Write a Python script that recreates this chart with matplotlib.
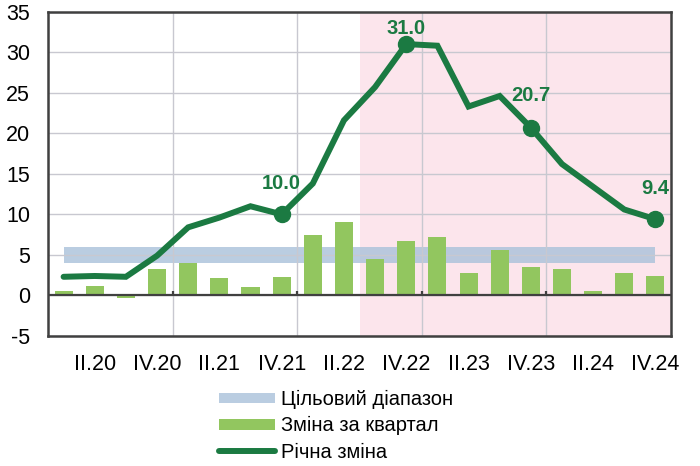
import matplotlib.pyplot as plt
import numpy as np

plt.rcParams["font.family"] = ["Liberation Sans", "DejaVu Sans"]
plt.rcParams["axes.unicode_minus"] = False

quarters = [f"{q}.{y}" for y in ["20", "21", "22", "23", "24"] for q in ["I", "II", "III", "IV"]]
quarterly = [0.6, 1.2, -0.3, 3.2, 4.0, 2.1, 1.1, 2.3, 7.5, 9.1,
             4.5, 6.7, 7.2, 2.8, 5.6, 3.5, 3.2, 0.5, 2.8, 2.35]
annual = [2.3, 2.4, 2.3, 4.9, 8.4, 9.6, 11.0, 10.0, 13.8, 21.6,
          25.7, 31.0, 30.8, 23.3, 24.6, 20.7, 16.2, 13.4, 10.6, 9.4]
target_low, target_high = 4.0, 6.0
marked = ["IV.21", "IV.22", "IV.23", "IV.24"]
shade_from = "III.22"

GREEN = "#1B7A42"
BAR = "#92C65F"
BAND = "#A9C1DA"
PINK = "#FCE5EC"
SPINE = "#404040"

x = np.arange(len(quarters))
fig = plt.figure(figsize=(7.0, 4.66), dpi=100)
ax = fig.add_axes([0.0686, 0.279, 0.89, 0.696])

ax.axvspan(quarters.index(shade_from) - 0.5, len(quarters) - 0.5, color=PINK, lw=0, zorder=0)
band = ax.fill_between([x[0], x[-1]], target_low, target_high, color=BAND, alpha=0.8, lw=0,
                       zorder=1, label="Цільовий діапазон")

for yv in range(-5, 36, 5):
    ax.axhline(yv, color="#C8C8D0", lw=1, zorder=1.5)
for b in range(4, len(quarters), 4):
    ax.axvline(b - 0.5, color="#C8C8D0", lw=1, zorder=1.5)

bars = ax.bar(x, quarterly, width=0.58, color=BAR, zorder=2, label="Зміна за квартал")
ax.axhline(0, color=SPINE, lw=1.6, zorder=2.5)
ax.vlines(np.arange(4, len(quarters), 4) - 0.5, 0, 0.6, color=SPINE, lw=1.6, zorder=2.5)

line, = ax.plot(x, annual, color=GREEN, lw=4.3, solid_joinstyle="miter",
                solid_capstyle="round", zorder=3, label="Річна зміна")
idx = [quarters.index(q) for q in marked]
ax.plot(x[idx], [annual[i] for i in idx], "o", color=GREEN, ms=11.5, zorder=4)
offsets = [31, 16, 32, 31]
for i, off in zip(idx, offsets):
    ax.annotate(f"{annual[i]:.1f}", (x[i], annual[i]), xytext=(0, off), textcoords="offset pixels",
                ha="center", va="center", fontsize=14.5, fontweight="bold", color=GREEN, zorder=5)

ax.set_xlim(-0.5, len(quarters) - 0.5)
ax.set_ylim(-5, 35)
ax.set_yticks(range(-5, 36, 5))
ax.set_xticks(x[1::2])
ax.set_xticklabels(quarters[1::2])
ax.tick_params(axis="x", length=0, pad=13, labelsize=15.5)
ax.tick_params(axis="y", length=0, pad=13, labelsize=15.5)
for s in ax.spines.values():
    s.set_color(SPINE)
    s.set_linewidth(1.8)

fig.legend([band, bars, line], [band.get_label(), bars.get_label(), line.get_label()],
           loc="center", bbox_to_anchor=(0.48, 0.086), frameon=False, fontsize=14.5,
           handlelength=2.8, handleheight=0.45, handletextpad=0.3, labelspacing=0.36, borderpad=0)

fig.savefig("out.png", dpi=100)
